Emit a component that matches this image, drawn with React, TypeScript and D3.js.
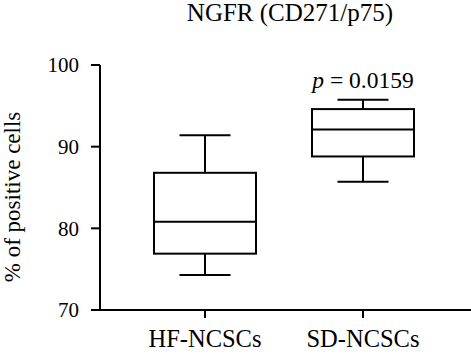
import React from "react";
import * as d3 from "d3";

const categories = ["HF-NCSCs", "SD-NCSCs"];
const whiskerLow = [74.3, 85.7];
const q1 = [76.9, 88.8];
const median = [80.8, 92.1];
const q3 = [86.8, 94.6];
const whiskerHigh = [91.4, 95.75];
const yTicks = [70, 80, 90, 100];
const title = "NGFR (CD271/p75)";
const yLabel = "% of positive cells";
const pValue = "0.0159";

const FONT = "'Liberation Serif', 'Times New Roman', serif";

export default function App() {
  const W = 471, H = 356;
  const left = 100, right = 471, top = 65, bottom = 310;
  const y = d3.scaleLinear().domain([70, 100]).range([bottom, top]);
  const x = d3.scalePoint<string>().domain(categories).range([205, 363]);
  const boxHalf = 51;
  const capHalf = 25.5;
  const sw = 2;
  const ts = (size: number): React.CSSProperties => ({ fontFamily: FONT, fontSize: size });
  return (
    <svg width={W} height={H} style={{ position: "absolute", left: 0, top: 0 }}>
      <text x={290} y={20.5} textAnchor="middle" style={ts(25)}>{title}</text>
      <text transform={`translate(20,197) rotate(-90)`} textAnchor="middle" style={ts(23)}>{yLabel}</text>
      <line x1={left} x2={left} y1={top} y2={bottom + 1} stroke="#000" strokeWidth={sw} />
      <line x1={left - 1} x2={right} y1={bottom} y2={bottom} stroke="#000" strokeWidth={sw} />
      {yTicks.map((t) => (
        <g key={t}>
          <line x1={left - 9} x2={left} y1={y(t)} y2={y(t)} stroke="#000" strokeWidth={sw} />
          <text x={left - 21} y={y(t)} dy="0.35em" textAnchor="end" style={ts(21)}>{t}</text>
        </g>
      ))}
      {categories.map((c, i) => {
        const cx = x(c)!;
        return (
          <g key={c}>
            <line x1={cx} x2={cx} y1={bottom} y2={bottom + 8} stroke="#000" strokeWidth={sw} />
            <text x={cx} y={347} textAnchor="middle" style={ts(24.5)}>{c}</text>
            <line x1={cx} x2={cx} y1={y(whiskerHigh[i])} y2={y(q3[i])} stroke="#000" strokeWidth={sw} />
            <line x1={cx} x2={cx} y1={y(q1[i])} y2={y(whiskerLow[i])} stroke="#000" strokeWidth={sw} />
            <line x1={cx - capHalf} x2={cx + capHalf} y1={y(whiskerHigh[i])} y2={y(whiskerHigh[i])} stroke="#000" strokeWidth={sw} />
            <line x1={cx - capHalf} x2={cx + capHalf} y1={y(whiskerLow[i])} y2={y(whiskerLow[i])} stroke="#000" strokeWidth={sw} />
            <rect x={cx - boxHalf} y={y(q3[i])} width={boxHalf * 2} height={y(q1[i]) - y(q3[i])} fill="none" stroke="#000" strokeWidth={sw} />
            <line x1={cx - boxHalf} x2={cx + boxHalf} y1={y(median[i])} y2={y(median[i])} stroke="#000" strokeWidth={sw} />
          </g>
        );
      })}
      <text x={x(categories[1])!} y={88} textAnchor="middle" style={ts(23.5)}>
        <tspan fontStyle="italic">p</tspan> = {pValue}
      </text>
    </svg>
  );
}
